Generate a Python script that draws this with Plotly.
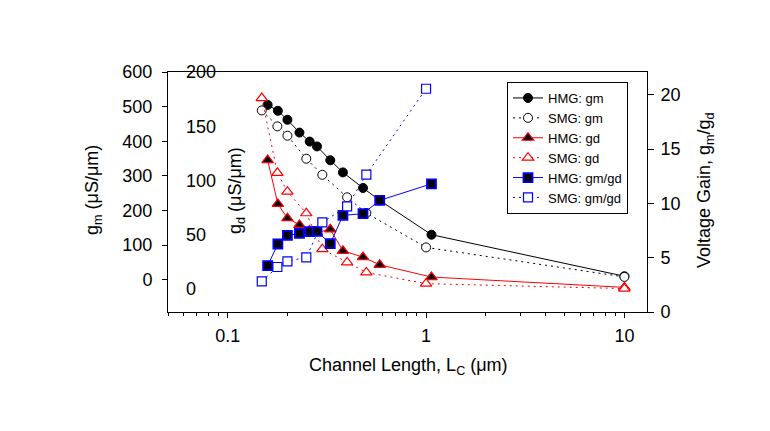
import plotly.graph_objects as go
import numpy as np

# ---------------- data ----------------
hmg_L = [0.159, 0.179, 0.2, 0.23, 0.259, 0.282, 0.329, 0.381, 0.481, 0.584, 1.065, 10]
hmg_gm = [505, 488, 462, 425, 399, 385, 345, 310, 265, 229, 130, 10]
hmg_gd = [118.8, 78.4, 65.2, 59.1, 54, 52, 55, 35.2, 29.4, 22.3, 11.0, 1.5]
hmg_gain_L = [0.159, 0.179, 0.2, 0.23, 0.259, 0.282, 0.329, 0.381, 0.481, 0.584, 1.065]
hmg_gain = [4.26, 6.26, 7.05, 7.24, 7.39, 7.42, 6.29, 8.89, 9.05, 10.27, 11.8]

smg_L = [0.1485, 0.178, 0.2, 0.249, 0.3, 0.4, 0.5, 1.0, 10]
smg_gm = [489, 443, 416, 349.5, 303, 238, 192.6, 93.3, 8]
smg_gd = [176, 107.1, 89.7, 69.8, 36.7, 24.5, 15.3, 4.9, 0.4]
smg_gain_L = [0.1485, 0.178, 0.2, 0.249, 0.3, 0.4, 0.5, 1.0]
smg_gain = [2.82, 4.14, 4.66, 5.03, 8.25, 9.72, 12.64, 20.55]

gm_ticks = [0, 100, 200, 300, 400, 500, 600]
gd_ticks = [0, 50, 100, 150, 200]
gain_ticks = [0, 5, 10, 15, 20]

# ---------------- layout constants ----------------
W, H = 770, 431
OFF = 8                      # page body offset in the browser
PL, PT, PR, PB = 168, 72, 647, 312   # plot frame in window pixels
PW, PH = PR - PL, PB - PT
L, T = PL - OFF, PT - OFF
R, B = W - PR + OFF, H - PB + OFF
FONT = "Arial, Liberation Sans, sans-serif"

def px2x(px):
    return (px - PL) / PW

def py2y(py):
    return (PB - py) / PH

DOT = "2px,4px"

fig = go.Figure()

fig.add_trace(go.Scatter(
    x=hmg_L, y=hmg_gm, name="HMG: gm", mode="lines+markers", yaxis="y",
    line=dict(color="black", width=1),
    marker=dict(symbol="circle", size=9, color="black", line=dict(color="black", width=1))))
fig.add_trace(go.Scatter(
    x=smg_L, y=smg_gm, name="SMG: gm", mode="lines+markers", yaxis="y",
    line=dict(color="black", width=1, dash=DOT),
    marker=dict(symbol="circle", size=9, color="white", line=dict(color="black", width=1))))
fig.add_trace(go.Scatter(
    x=hmg_L, y=hmg_gd, name="HMG: gd", mode="lines+markers", yaxis="y2",
    line=dict(color="red", width=1),
    marker=dict(symbol="triangle-up", size=10, color="black", line=dict(color="red", width=1.2))))
fig.add_trace(go.Scatter(
    x=smg_L, y=smg_gd, name="SMG: gd", mode="lines+markers", yaxis="y2",
    line=dict(color="red", width=1, dash=DOT),
    marker=dict(symbol="triangle-up", size=10, color="white", line=dict(color="red", width=1.2))))
fig.add_trace(go.Scatter(
    x=hmg_gain_L, y=hmg_gain, name="HMG: gm/gd", mode="lines+markers", yaxis="y3",
    line=dict(color="blue", width=1),
    marker=dict(symbol="square", size=9, color="black", line=dict(color="blue", width=1.8))))
fig.add_trace(go.Scatter(
    x=smg_gain_L, y=smg_gain, name="SMG: gm/gd", mode="lines+markers", yaxis="y3",
    line=dict(color="blue", width=1, dash=DOT),
    marker=dict(symbol="square", size=9, color="white", line=dict(color="blue", width=1.2))))

tickfont = dict(family=FONT, size=18, color="black")

gm_range = [-93.3, 600]
gd_range = [-21.2, 200]
gain_range = [0, 22.09]

fig.update_layout(
    width=W, height=H,
    margin=dict(l=L, r=R, t=T, b=B, pad=0),
    paper_bgcolor="white", plot_bgcolor="white",
    font=dict(family=FONT, size=18, color="black"),
    showlegend=True,
    legend=dict(
        x=px2x(507), y=py2y(82), xanchor="left", yanchor="top",
        bgcolor="white", bordercolor="black", borderwidth=1,
        font=dict(family=FONT, size=13, color="black"),
        tracegroupgap=0,
    ),
    xaxis=dict(
        type="log", range=[np.log10(0.05), np.log10(13)],
        showline=True, linecolor="black", linewidth=1, mirror=True,
        showgrid=False, zeroline=False,
        ticks="outside", ticklen=5, tickcolor="black", tickwidth=1,
        tickvals=[0.1, 1, 10], ticktext=["0.1", "1", "10"],
        tickfont=tickfont, ticklabelstandoff=2,
        minor=dict(ticks="outside", ticklen=3, tickcolor="black", tickwidth=1,
                   tickvals=[0.05, 0.06, 0.07, 0.08, 0.09,
                             0.2, 0.3, 0.4, 0.5, 0.6, 0.7, 0.8, 0.9,
                             2, 3, 4, 5, 6, 7, 8, 9], showgrid=False),
        automargin=False,
    ),
    yaxis=dict(
        range=gm_range, tickvals=gm_ticks,
        showline=True, linecolor="black", linewidth=1,
        showgrid=False, zeroline=False,
        ticks="outside", ticklen=5, tickcolor="black",
        tickfont=tickfont, side="left", ticklabelstandoff=6,
        automargin=False,
    ),
    # gd axis carrying the labels (placed inside the frame)
    yaxis2=dict(
        range=gd_range, tickvals=gd_ticks, overlaying="y",
        anchor="free", position=px2x(185), side="right",
        showline=False, showgrid=False, zeroline=False,
        ticks="", tickfont=tickfont, automargin=False,
    ),
    yaxis3=dict(
        range=gain_range, tickvals=gain_ticks, overlaying="y",
        anchor="x", side="right",
        showline=True, linecolor="black", linewidth=1,
        showgrid=False, zeroline=False,
        ticks="outside", ticklen=6, tickcolor="black",
        tickfont=tickfont, ticklabelstandoff=3, automargin=False,
    ),
    # gd tick marks pointing inward from the left frame
    yaxis4=dict(
        range=gd_range, tickvals=gd_ticks, overlaying="y",
        anchor="x", side="left",
        showline=False, showgrid=False, zeroline=False,
        ticks="inside", ticklen=5, tickcolor="black",
        showticklabels=False, automargin=False,
    ),
)

ann = dict(xref="paper", yref="paper", showarrow=False,
           font=dict(family=FONT, size=18, color="black"),
           xanchor="center", yanchor="middle")
fig.add_annotation(text="g<sub>m</sub> (μS/μm)", x=px2x(93), y=py2y(190), textangle=-90, **ann)
fig.add_annotation(text="g<sub>d</sub> (μS/μm)", x=px2x(236), y=py2y(191), textangle=-90, **ann)
fig.add_annotation(text="Voltage Gain, g<sub>m</sub>/g<sub>d</sub>", x=px2x(705), y=py2y(190), textangle=-90, **ann)
fig.add_annotation(text="Channel Length, L<sub>C</sub> (μm)", x=px2x(408), y=py2y(366), **ann)

fig.write_html("out.html")
